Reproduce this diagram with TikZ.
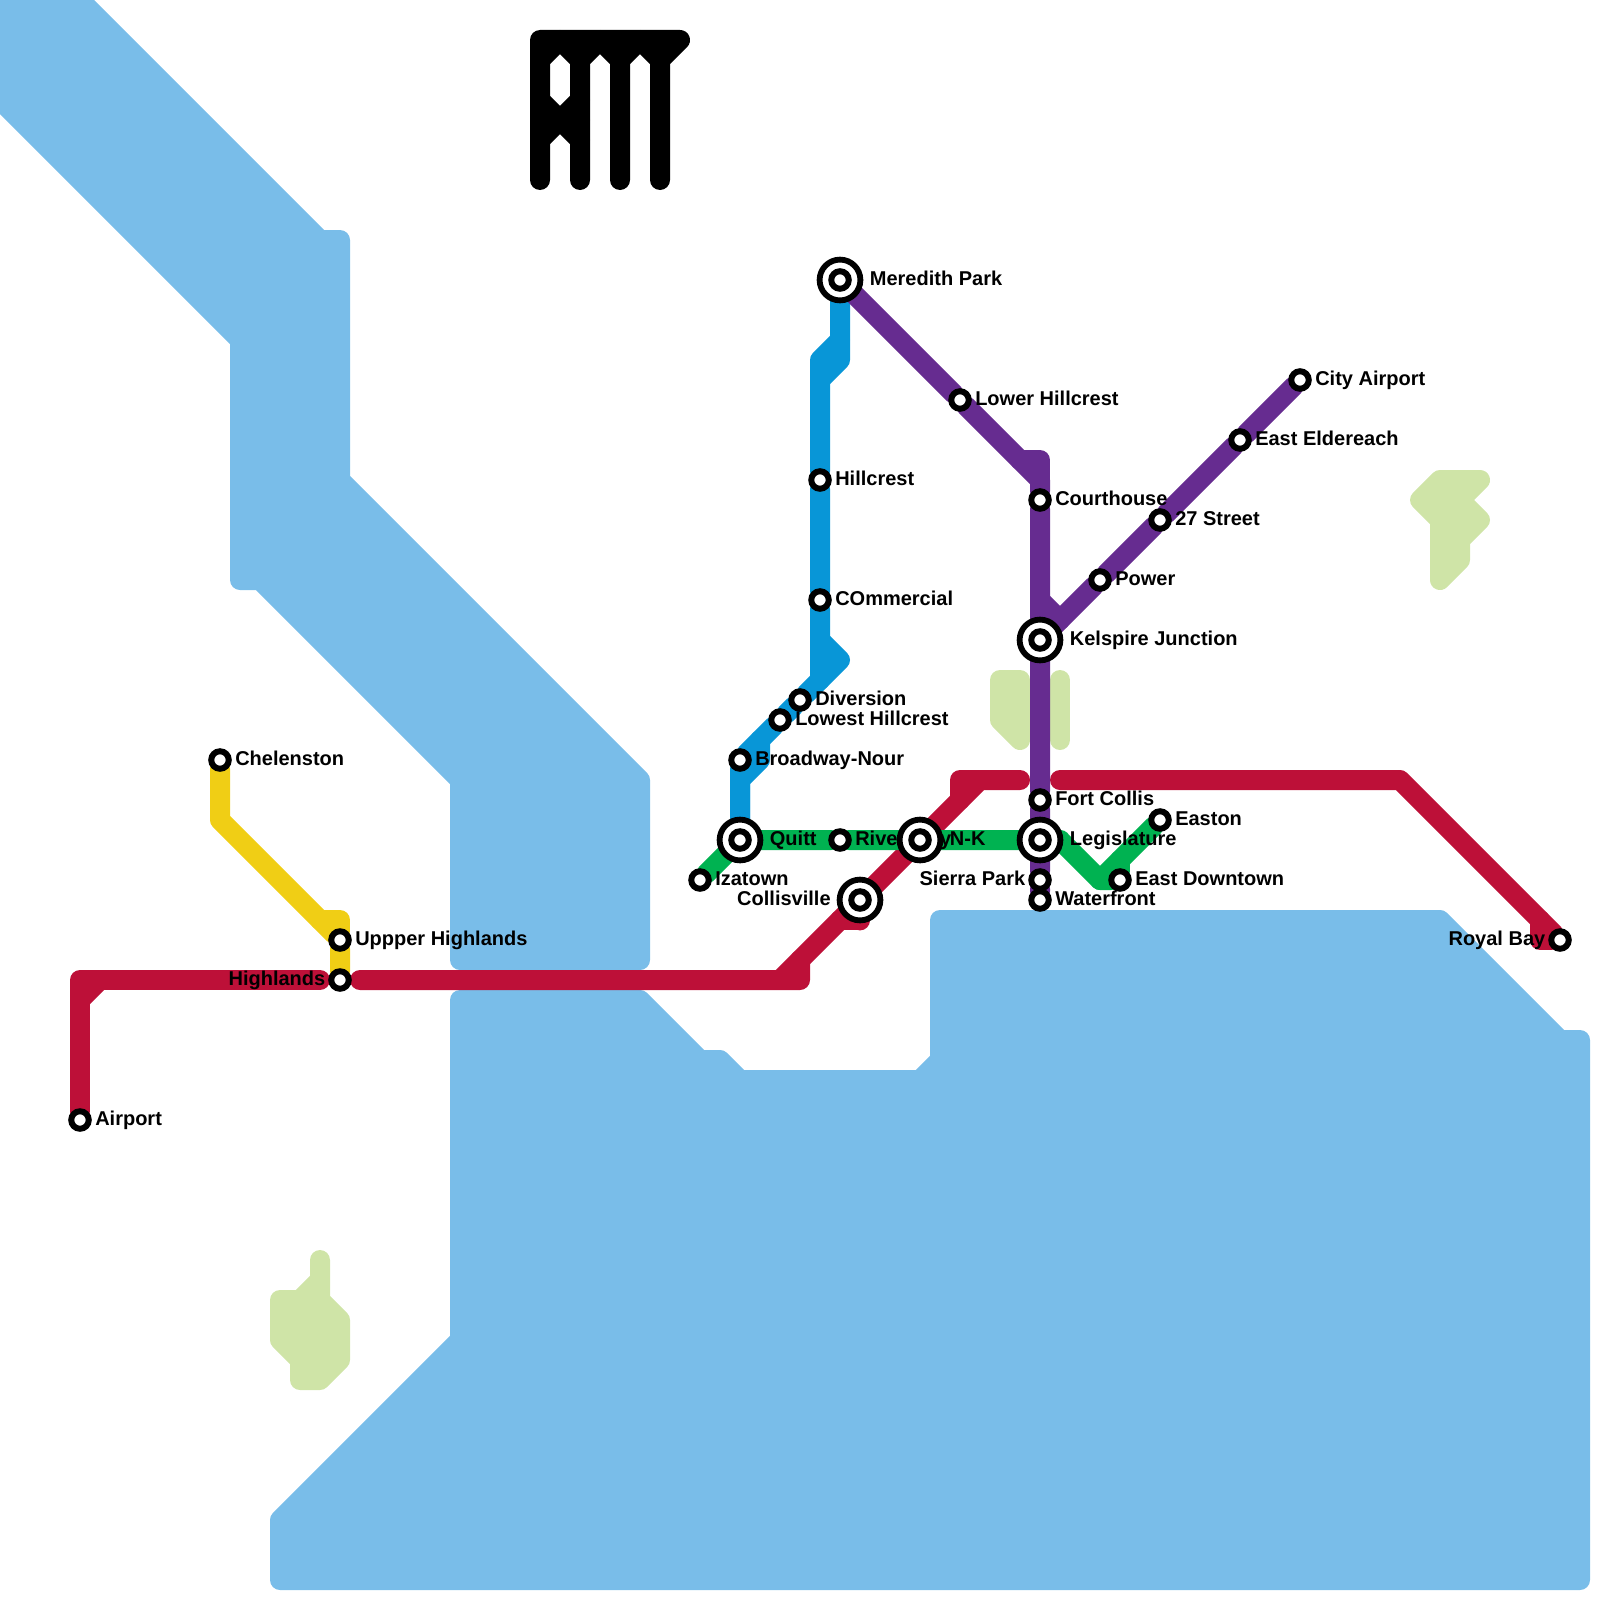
\documentclass[tikz,border=0pt]{standalone}
\usepackage{fontspec}
\setmainfont{Liberation Sans}
\usepackage{xcolor}
\usetikzlibrary{positioning,backgrounds}

\definecolor{water}{HTML}{79BDE9}
\definecolor{park}{HTML}{CFE4A7}
\definecolor{mapred}{HTML}{BD1038}
\definecolor{mapblue}{HTML}{0896D7}
\definecolor{mapgreen}{HTML}{00B251}
\definecolor{mappurple}{HTML}{662C90}
\definecolor{mapyellow}{HTML}{F0CE15}

\tikzset{
  route/.style={line width=20pt,line cap=round,line join=round},
  area/.style={line width=20pt,line join=round,draw=#1,fill=#1},
  station/.style={circle,draw,fill=white,line width=6pt,minimum size=17.5pt,inner sep=0pt,outer sep=0pt},
  hub/.style={circle,draw,fill=white,line width=5.8pt,minimum size=40.8pt,inner sep=0pt,outer sep=0pt,
    path picture={\draw[line width=6pt] (path picture bounding box.center) circle (8.75pt);}},
  place/.style={font=\bfseries\fontsize{20}{24}\selectfont,inner sep=0pt,outer sep=0pt,text height=14pt,text depth=4pt}
}

\begin{document}
\begin{tikzpicture}[x=1pt,y=-1pt]
\useasboundingbox (0,0) rectangle (1600,1600);

% stations
\node[station] (airport) at (80,1120) {};
\node[station] (highlands) at (340,980) {};
\node[station] (upper) at (340,940) {};
\node[station] (chelenston) at (220,760) {};
\node[hub] (meredith) at (840,280) {};
\node[station] (hillcrest) at (820,480) {};
\node[station] (commercial) at (820,600) {};
\node[station] (diversion) at (800,700) {};
\node[station] (lowest) at (780,720) {};
\node[station] (broadway) at (740,760) {};
\node[hub] (quitt) at (740,840) {};
\node[station] (riverway) at (840,840) {};
\node[hub] (nk) at (920,840) {};
\node[station] (izatown) at (700,880) {};
\node[hub] (collisville) at (860,900) {};
\node[hub] (legislature) at (1040,840) {};
\node[station] (fortcollis) at (1040,800) {};
\node[station] (sierra) at (1040,880) {};
\node[station] (waterfront) at (1040,900) {};
\node[station] (downtown) at (1120,880) {};
\node[station] (easton) at (1160,820) {};
\node[hub] (kelspire) at (1040,640) {};
\node[station] (courthouse) at (1040,500) {};
\node[station] (lowerhill) at (960,400) {};
\node[station] (power) at (1100,580) {};
\node[station] (street) at (1160,520) {};
\node[station] (eldereach) at (1240,440) {};
\node[station] (cityairport) at (1300,380) {};
\node[station] (royalbay) at (1560,940) {};

% bends of the lines
\coordinate (r1) at (80,1000);
\coordinate (r2) at (80,980);
\coordinate (r3) at (100,980);
\coordinate (r4) at (320,980);
\coordinate (r5) at (360,980);
\coordinate (r6) at (780,980);
\coordinate (r7) at (800,980);
\coordinate (r8) at (800,960);
\coordinate (r9) at (840,920);
\coordinate (r10) at (860,920);
\coordinate (r11) at (960,800);
\coordinate (r12) at (960,780);
\coordinate (r13) at (980,780);
\coordinate (r14) at (1020,780);
\coordinate (r15) at (1060,780);
\coordinate (r16) at (1400,780);
\coordinate (r17) at (1540,920);
\coordinate (r18) at (1540,940);
\coordinate (y1) at (220,820);
\coordinate (y2) at (320,920);
\coordinate (y3) at (340,920);
\coordinate (b1) at (840,340);
\coordinate (b2) at (840,360);
\coordinate (b3) at (820,360);
\coordinate (b4) at (820,380);
\coordinate (b5) at (820,680);
\coordinate (b6) at (820,640);
\coordinate (b7) at (840,660);
\coordinate (b8) at (760,740);
\coordinate (b9) at (760,760);
\coordinate (b10) at (740,780);
\coordinate (g1) at (1060,840);
\coordinate (g2) at (1100,880);
\coordinate (g3) at (1120,860);
\coordinate (p1) at (1020,460);
\coordinate (p2) at (1040,460);
\coordinate (p3) at (1040,480);
\coordinate (p4) at (1040,600);
\coordinate (p5) at (1060,620);

\begin{scope}[on background layer]
% water
\path[area=water] (0,0) -- (80,0) -- (320,240) -- (340,240) -- (340,480) -- (640,780) -- (640,960)
  -- (460,960) -- (460,780) -- (260,580) -- (240,580) -- (240,340) -- (0,100) -- cycle;
\path[area=water] (460,1000) -- (640,1000) -- (700,1060) -- (720,1060) -- (740,1080) -- (920,1080)
  -- (940,1060) -- (940,920) -- (1440,920) -- (1560,1040) -- (1580,1040) -- (1580,1580) -- (280,1580)
  -- (280,1520) -- (460,1340) -- cycle;

% parks
\path[area=park] (1000,680) -- (1020,680) -- (1020,740) -- (1000,720) -- cycle;
\draw[route,park] (1060,680) -- (1060,740);
\path[area=park] (320,1260) -- (320,1300) -- (340,1320) -- (340,1360) -- (320,1380) -- (300,1380)
  -- (300,1360) -- (280,1340) -- (280,1300) -- (300,1300) -- (320,1280) -- cycle;
\path[area=park] (1440,480) -- (1480,480) -- (1460,500) -- (1480,520) -- (1460,540) -- (1460,560)
  -- (1440,580) -- (1440,520) -- (1420,500) -- cycle;

% logo
\draw[route,black] (540,180) -- (540,40) -- (680,40) -- (660,60) -- (660,180);
\draw[route,black] (580,180) -- (580,60) -- (600,40) -- (620,60) -- (620,180);
\draw[route,black] (540,60) -- (560,40) -- (580,60);
\draw[route,black] (620,60) -- (640,40) -- (660,60);
\draw[route,black] (540,100) -- (560,120) -- (580,100);
\draw[route,black] (540,140) -- (560,120) -- (580,140);
\draw[route,black] (540,120) -- (580,120);

% lines
\draw[route,mapyellow] (chelenston) -- (y1) -- (upper) -- (highlands);
\draw[route,mapyellow] (y2) -- (y3) -- (upper);

\draw[route,mapred] (airport) -- (r1) -- (r2) -- (r3) -- (r4);
\draw[route,mapred] (r1) -- (r3);
\draw[route,mapred] (r5) -- (r6) -- (r7) -- (r8) -- (r6);
\draw[route,mapred] (r8) -- (r9) -- (collisville) -- (nk) -- (r11) -- (r13) -- (r14);
\draw[route,mapred] (r9) -- (r10) -- (collisville);
\draw[route,mapred] (r11) -- (r12) -- (r13);
\draw[route,mapred] (r15) -- (r16) -- (r17) -- (royalbay);
\draw[route,mapred] (r17) -- (r18) -- (royalbay);

\draw[route,mapblue] (meredith) -- (b1) -- (b2) -- (b4);
\draw[route,mapblue] (b1) -- (b3) -- (b4) -- (hillcrest) -- (commercial) -- (b5);
\draw[route,mapblue] (b6) -- (b7) -- (diversion) -- (lowest) -- (broadway) -- (quitt);
\draw[route,mapblue] (b8) -- (b9) -- (b10) -- (quitt);

\draw[route,mapgreen] (izatown) -- (quitt) -- (riverway) -- (nk) -- (legislature) -- (g1) -- (g2) -- (downtown);
\draw[route,mapgreen] (easton) -- (g3) -- (g2);
\draw[route,mapgreen] (g3) -- (downtown);

\draw[route,mappurple] (meredith) -- (lowerhill) -- (p3) -- (courthouse) -- (kelspire) -- (fortcollis)
  -- (legislature) -- (sierra) -- (waterfront);
\draw[route,mappurple] (p1) -- (p2) -- (p3);
\draw[route,mappurple] (kelspire) -- (power) -- (street) -- (eldereach) -- (cityairport);
\draw[route,mappurple] (p4) -- (p5);

% names
\node[place,right=6.5pt of airport] (airportname) {Airport};
\node[place,left=6pt of highlands] (highlandsname) {Highlands};
\node[place,right=6.5pt of upper] (uppername) {Uppper Highlands};
\node[place,right=6.5pt of chelenston] (chelenstonname) {Chelenston};
\node[place,right=9.5pt of meredith] (meredithname) {Meredith Park};
\node[place,right=6.5pt of hillcrest] (hillcrestname) {Hillcrest};
\node[place,right=6.5pt of commercial] (commercialname) {COmmercial};
\node[place,right=6.5pt of diversion] (diversionname) {Diversion};
\node[place,right=6.5pt of lowest] (lowestname) {Lowest Hillcrest};
\node[place,right=6.5pt of broadway] (broadwayname) {Broadway-Nour};
\node[place,right=9.5pt of quitt] (quittname) {Quitt};
\node[place,right=6.5pt of riverway] (riverwayname) {River Way};
\node[place,right=9.5pt of nk] (nkname) {N-K};
\node[place,right=6.5pt of izatown] (izatownname) {Izatown};
\node[place,left=9pt of collisville] (collisvillename) {Collisville};
\node[place,right=9.5pt of legislature] (legislaturename) {Legislature};
\node[place,right=6.5pt of fortcollis] (fortcollisname) {Fort Collis};
\node[place,left=6pt of sierra] (sierraname) {Sierra Park};
\node[place,right=6.5pt of waterfront] (waterfrontname) {Waterfront};
\node[place,right=6.5pt of downtown] (downtownname) {East Downtown};
\node[place,right=6.5pt of easton] (eastonname) {Easton};
\node[place,right=9.5pt of kelspire] (kelspirename) {Kelspire Junction};
\node[place,right=6.5pt of courthouse] (courthousename) {Courthouse};
\node[place,right=6.5pt of lowerhill] (lowerhillname) {Lower Hillcrest};
\node[place,right=6.5pt of power] (powername) {Power};
\node[place,right=6.5pt of street] (streetname) {27 Street};
\node[place,right=6.5pt of eldereach] (eldereachname) {East Eldereach};
\node[place,right=6.5pt of cityairport] (cityairportname) {City Airport};
\node[place,left=6pt of royalbay] (royalbayname) {Royal Bay};
\end{scope}
\end{tikzpicture}
\end{document}
